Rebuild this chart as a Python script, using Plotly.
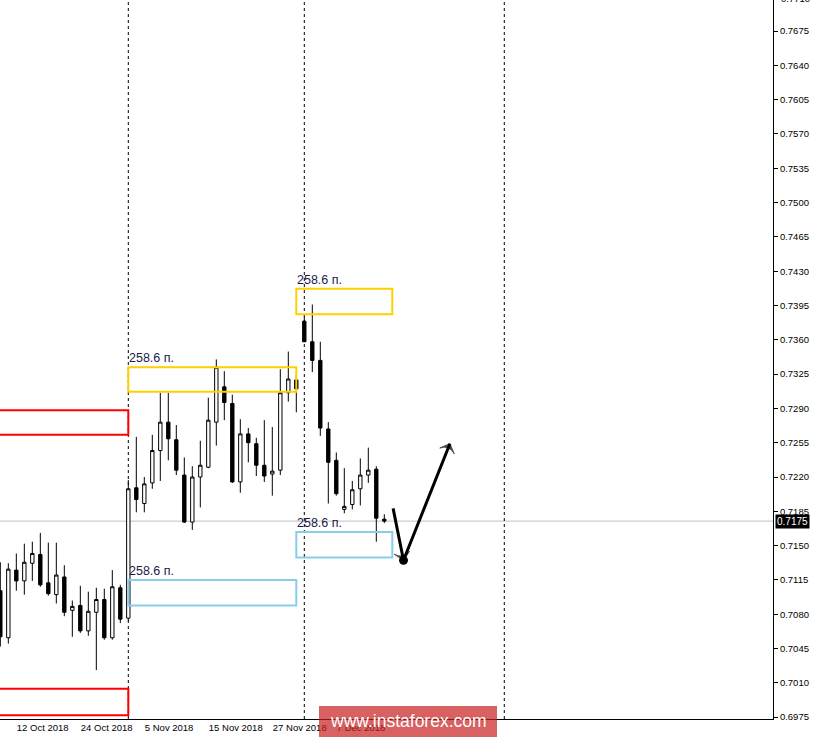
import plotly.graph_objects as go
import pandas as pd

# ---- data (AUDUSD daily) ----
dates = pd.bdate_range("2018-10-10", "2018-12-17")
opens = [0.7104, 0.7056, 0.7125, 0.7114, 0.7132, 0.7141, 0.7112, 0.7100, 0.7118, 0.7084,
         0.7089, 0.7063, 0.7082, 0.7095, 0.7056, 0.7107, 0.7076, 0.7209, 0.7193, 0.7214,
         0.7247, 0.7276, 0.7258, 0.7222, 0.7174, 0.7220, 0.7230, 0.7276, 0.7312, 0.7295,
         0.7215, 0.7264, 0.7254, 0.7232, 0.7223, 0.7227, 0.7306, 0.7319, 0.7379, 0.7358,
         0.7339, 0.7269, 0.7237, 0.7187, 0.7192, 0.7208, 0.7222, 0.7228, 0.7177]
highs = [0.7133, 0.7132, 0.7142, 0.7152, 0.7154, 0.7163, 0.7153, 0.7153, 0.7130, 0.7094,
         0.7109, 0.7103, 0.7107, 0.7106, 0.7125, 0.7110, 0.7217, 0.7261, 0.7220, 0.7263,
         0.7306, 0.7306, 0.7273, 0.7240, 0.7231, 0.7257, 0.7301, 0.7340, 0.7328, 0.7304,
         0.7279, 0.7270, 0.7260, 0.7278, 0.7271, 0.7330, 0.7348, 0.7324, 0.7384, 0.7396,
         0.7358, 0.7276, 0.7245, 0.7229, 0.7216, 0.7239, 0.7250, 0.7231, 0.7182]
lows = [0.7047, 0.7050, 0.7104, 0.7100, 0.7114, 0.7108, 0.7099, 0.7091, 0.7078, 0.7057,
        0.7061, 0.7058, 0.7023, 0.7054, 0.7054, 0.7071, 0.7073, 0.7184, 0.7184, 0.7208,
        0.7216, 0.7237, 0.7222, 0.7173, 0.7166, 0.7189, 0.7229, 0.7252, 0.7278, 0.7214,
        0.7204, 0.7235, 0.7221, 0.7215, 0.7201, 0.7222, 0.7297, 0.7286, 0.7358, 0.7327,
        0.7262, 0.7193, 0.7201, 0.7183, 0.7187, 0.7191, 0.7214, 0.7154, 0.7173]
closes = [0.7057, 0.7126, 0.7114, 0.7133, 0.7142, 0.7110, 0.7101, 0.7120, 0.7082, 0.7088,
          0.7063, 0.7083, 0.7095, 0.7056, 0.7108, 0.7075, 0.7208, 0.7197, 0.7213, 0.7247,
          0.7276, 0.7259, 0.7227, 0.7174, 0.7220, 0.7232, 0.7278, 0.7332, 0.7296, 0.7215,
          0.7264, 0.7255, 0.7232, 0.7221, 0.7226, 0.7306, 0.7320, 0.7310, 0.7358, 0.7339,
          0.7270, 0.7235, 0.7203, 0.7190, 0.7207, 0.7222, 0.7227, 0.7178, 0.7175]

price_ticks = [0.6975 + 0.0035 * k for k in range(21)]
date_tick_idx = [2, 10, 18, 26, 34, 42]
date_tick_text = ["12 Oct 2018", "24 Oct 2018", "5 Nov 2018", "15 Nov 2018", "27 Nov 2018", "7 Dec 2018"]
separator_idx = [16, 38, 63]

# zones: (x0, x1, bottom, top, color, label)
zone_x0 = [-4, -4, 16, 37, 16, 37]
zone_x1 = [16, 16, 37, 49, 37, 49]
zone_bottom = [0.7263, 0.6977, 0.7307, 0.7386, 0.7089, 0.7138]
zone_top = [0.7288, 0.7004, 0.7332, 0.7412, 0.7115, 0.7164]
zone_color = ["#ff0000", "#ff0000", "#ffd000", "#ffd000", "#87ceeb", "#87ceeb"]
zone_label = ["", "", "258.6 п.", "258.6 п.", "258.6 п.", "258.6 п."]

arrow_x = [49.1, 50.4, 56.2]
arrow_y = [0.7188, 0.7135, 0.7254]

idx = list(range(len(dates)))
FONT = "Liberation Sans"

fig = go.Figure()
fig.add_trace(go.Candlestick(
    x=idx, open=opens, high=highs, low=lows, close=closes,
    increasing=dict(line=dict(color="black", width=1), fillcolor="white"),
    decreasing=dict(line=dict(color="black", width=1), fillcolor="black"),
    whiskerwidth=0, showlegend=False, hoverinfo="skip"))

# arrow path
fig.add_trace(go.Scatter(x=arrow_x, y=arrow_y, mode="lines",
                         line=dict(color="black", width=3), showlegend=False, hoverinfo="skip"))
fig.add_trace(go.Scatter(x=arrow_x, y=arrow_y, mode="markers",
                         marker=dict(symbol=["circle", "arrow-wide", "arrow-wide"], size=[9, 11, 11],
                                     angleref="previous", color="black",
                                     line=dict(color="black", width=1)),
                         showlegend=False, hoverinfo="skip"))
fig.add_trace(go.Scatter(x=[arrow_x[1]], y=[arrow_y[1]], mode="markers",
                         marker=dict(symbol="circle", size=9, color="black"),
                         showlegend=False, hoverinfo="skip"))

shapes = []
# current price line
shapes.append(dict(type="line", xref="paper", yref="y", x0=0, x1=1, y0=closes[-1], y1=closes[-1],
                   line=dict(color="#c0c0c0", width=1), layer="below"))
for s in separator_idx:
    shapes.append(dict(type="line", xref="x", yref="paper", x0=s, x1=s, y0=0, y1=1,
                       line=dict(color="black", width=1, dash="3px,3px"), layer="below"))
annotations = []
for x0, x1, b, t, c, lab in zip(zone_x0, zone_x1, zone_bottom, zone_top, zone_color, zone_label):
    shapes.append(dict(type="rect", xref="x", yref="y", x0=x0, x1=x1, y0=b, y1=t,
                       line=dict(color=c, width=2), fillcolor="rgba(0,0,0,0)", layer="above"))
    if lab:
        annotations.append(dict(xref="x", yref="y", x=x0, y=t, text=lab, showarrow=False,
                                xanchor="left", yanchor="bottom", xshift=-1, yshift=0,
                                font=dict(family=FONT, size=12.5, color="#1a1a4a")))

# watermark
shapes.append(dict(type="rect", xref="paper", yref="paper", x0=319 / 773, x1=497 / 773,
                   y0=-20 / 719, y1=13 / 719, fillcolor="rgba(200,30,30,0.7)",
                   line=dict(width=0), layer="above"))
annotations.append(dict(xref="paper", yref="paper", x=408 / 773, y=-2 / 719, text="www.instaforex.com",
                        showarrow=False, xanchor="center", yanchor="middle",
                        font=dict(family=FONT, size=17.5, color="white")))
# current price tag
annotations.append(dict(xref="paper", yref="y", x=1, y=closes[-1], text="%.4f" % closes[-1],
                        showarrow=False, xanchor="left", yanchor="middle", xshift=2,
                        bgcolor="black", borderpad=1,
                        font=dict(family=FONT, size=10, color="white")))
# partially visible top label
annotations.append(dict(xref="paper", yref="paper", x=1, y=1 + 2 / 719, text="0.7710",
                        showarrow=False, xanchor="left", yanchor="middle", xshift=6,
                        font=dict(family=FONT, size=9.5, color="black")))

fig.update_layout(
    width=815, height=737,
    margin=dict(l=0, r=42, t=0, b=18, pad=0, autoexpand=False),
    paper_bgcolor="white", plot_bgcolor="white",
    boxgap=0.4,
    shapes=shapes, annotations=annotations,
    xaxis=dict(range=[-0.04, 96.59], showgrid=False, zeroline=False, showline=True,
               linecolor="black", linewidth=1, tickvals=date_tick_idx, ticktext=date_tick_text,
               ticks="", ticklabelposition="outside right",
               tickfont=dict(family=FONT, size=9.5, color="black"),
               rangeslider=dict(visible=False), fixedrange=True),
    yaxis=dict(side="right", range=[0.69731, 0.77067], showgrid=False, zeroline=False,
               showline=True, linecolor="black", linewidth=1,
               tickvals=price_ticks, ticktext=["%.4f" % v for v in price_ticks],
               ticks="outside", ticklen=4, tickcolor="black",
               tickfont=dict(family=FONT, size=9.5, color="black"), fixedrange=True),
)

fig.write_html("out.html", config={"displayModeBar": False, "responsive": False},
               post_script="document.body.style.margin='0';document.body.style.padding='0';")
